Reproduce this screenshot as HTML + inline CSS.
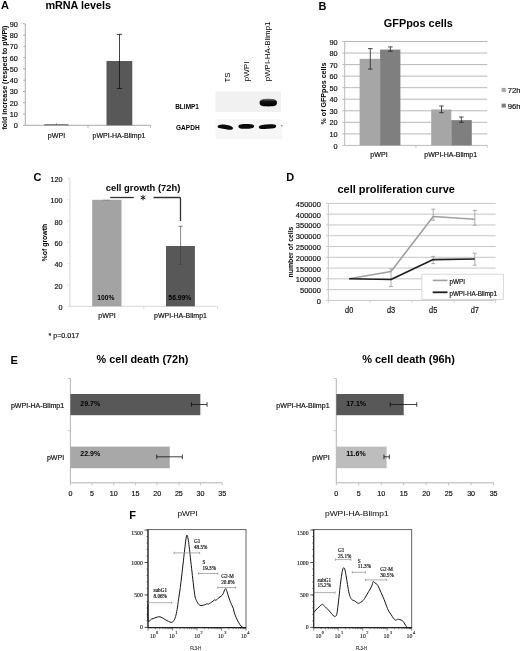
<!DOCTYPE html>
<html><head><meta charset="utf-8"><title>Figure</title>
<style>
html,body{margin:0;padding:0;background:#fff;}
body{width:520px;height:651px;overflow:hidden;}
svg{display:block;font-family:"Liberation Sans", sans-serif;will-change:transform;}
</style></head>
<body>
<svg width="520" height="651" viewBox="0 0 520 651">
<rect x="0" y="0" width="520" height="651" fill="#fff"/>
<text x="1.00" y="9.40" font-size="11" font-weight="bold" text-anchor="start" fill="#000">A</text>
<text x="45.40" y="9.30" font-size="10.8" font-weight="bold" text-anchor="start" fill="#000">mRNA levels</text>
<line x1="25.30" y1="23.80" x2="25.30" y2="125.30" stroke="#a0a0a0" stroke-width="0.9"/>
<line x1="25.30" y1="125.30" x2="150.50" y2="125.30" stroke="#a0a0a0" stroke-width="0.9"/>
<line x1="23.00" y1="125.30" x2="25.30" y2="125.30" stroke="#a0a0a0" stroke-width="0.8"/>
<text x="17.90" y="128.31" font-size="7.3" stroke="#111" stroke-width="0.18" text-anchor="end" fill="#111">0</text>
<line x1="23.00" y1="114.02" x2="25.30" y2="114.02" stroke="#a0a0a0" stroke-width="0.8"/>
<text x="17.90" y="117.04" font-size="7.3" stroke="#111" stroke-width="0.18" text-anchor="end" fill="#111">10</text>
<line x1="23.00" y1="102.74" x2="25.30" y2="102.74" stroke="#a0a0a0" stroke-width="0.8"/>
<text x="17.90" y="105.76" font-size="7.3" stroke="#111" stroke-width="0.18" text-anchor="end" fill="#111">20</text>
<line x1="23.00" y1="91.47" x2="25.30" y2="91.47" stroke="#a0a0a0" stroke-width="0.8"/>
<text x="17.90" y="94.48" font-size="7.3" stroke="#111" stroke-width="0.18" text-anchor="end" fill="#111">30</text>
<line x1="23.00" y1="80.19" x2="25.30" y2="80.19" stroke="#a0a0a0" stroke-width="0.8"/>
<text x="17.90" y="83.20" font-size="7.3" stroke="#111" stroke-width="0.18" text-anchor="end" fill="#111">40</text>
<line x1="23.00" y1="68.91" x2="25.30" y2="68.91" stroke="#a0a0a0" stroke-width="0.8"/>
<text x="17.90" y="71.92" font-size="7.3" stroke="#111" stroke-width="0.18" text-anchor="end" fill="#111">50</text>
<line x1="23.00" y1="57.63" x2="25.30" y2="57.63" stroke="#a0a0a0" stroke-width="0.8"/>
<text x="17.90" y="60.65" font-size="7.3" stroke="#111" stroke-width="0.18" text-anchor="end" fill="#111">60</text>
<line x1="23.00" y1="46.36" x2="25.30" y2="46.36" stroke="#a0a0a0" stroke-width="0.8"/>
<text x="17.90" y="49.37" font-size="7.3" stroke="#111" stroke-width="0.18" text-anchor="end" fill="#111">70</text>
<line x1="23.00" y1="35.08" x2="25.30" y2="35.08" stroke="#a0a0a0" stroke-width="0.8"/>
<text x="17.90" y="38.09" font-size="7.3" stroke="#111" stroke-width="0.18" text-anchor="end" fill="#111">80</text>
<line x1="23.00" y1="23.80" x2="25.30" y2="23.80" stroke="#a0a0a0" stroke-width="0.8"/>
<text x="17.90" y="26.81" font-size="7.3" stroke="#111" stroke-width="0.18" text-anchor="end" fill="#111">90</text>
<line x1="88.00" y1="125.30" x2="88.00" y2="127.80" stroke="#a0a0a0" stroke-width="0.8"/>
<line x1="150.50" y1="125.30" x2="150.50" y2="127.80" stroke="#a0a0a0" stroke-width="0.8"/>
<rect x="44.20" y="124.20" width="24.30" height="1.10" fill="#6a6a6a"/>
<line x1="56.40" y1="123.30" x2="56.40" y2="124.70" stroke="#333" stroke-width="0.6"/>
<rect x="106.50" y="61.02" width="25.80" height="64.28" fill="#585858"/>
<line x1="119.50" y1="34.40" x2="119.50" y2="88.50" stroke="#111" stroke-width="0.8"/>
<line x1="116.90" y1="34.40" x2="122.10" y2="34.40" stroke="#111" stroke-width="0.8"/>
<line x1="116.90" y1="88.50" x2="122.10" y2="88.50" stroke="#111" stroke-width="0.8"/>
<text x="4.80" y="80.14" font-size="7.1" font-weight="bold" text-anchor="middle" fill="#000" transform="rotate(-90 4.80 77.60)">fold increase (respect to pWPI)</text>
<text x="56.50" y="137.94" font-size="7.1" stroke="#111" stroke-width="0.18" text-anchor="middle" fill="#111">pWPI</text>
<text x="119.00" y="137.91" font-size="7.0" stroke="#111" stroke-width="0.18" text-anchor="middle" fill="#111">pWPI-HA-Blimp1</text>
<text x="227.20" y="85.29" font-size="7.8" text-anchor="start" fill="#000" transform="rotate(-90 227.20 82.50)">TS</text>
<text x="246.40" y="84.06" font-size="8.0" text-anchor="start" fill="#000" transform="rotate(-90 246.40 81.20)">pWPI</text>
<text x="267.20" y="84.03" font-size="7.9" text-anchor="start" fill="#000" transform="rotate(-90 267.20 81.20)">pWPI-HA-Blimp1</text>
<rect x="215.60" y="91.50" width="65.40" height="20.50" fill="#f1f1f1"/>
<rect x="215.60" y="119.30" width="66.20" height="19.60" fill="#f6f6f6"/>
<defs><linearGradient id="bg1" x1="0" y1="0" x2="0" y2="1"><stop offset="0" stop-color="#777"/><stop offset="0.35" stop-color="#111"/><stop offset="1" stop-color="#000"/></linearGradient></defs>
<path d="M259.6,102.8 C259.6,99.3 263,98.8 268.3,98.8 C273.6,98.8 277,99.3 277,102.8 C277,106.3 273.6,106.4 268.3,106.4 C263,106.4 259.6,106.3 259.6,102.8 Z" fill="url(#bg1)"/>
<path d="M217.6,126.6 C217.6,124.6 221.5,124.1 225.5,124.7 C229,125.2 233,126.2 233,128.2 C233,130.1 229.5,130 226,129.2 C222,128.5 217.6,128.8 217.6,126.6 Z" fill="#0a0a0a"/>
<path d="M238.4,126.5 C238.4,124.3 242,124.1 246,124.1 C250,124.1 254.1,124.2 254.1,126.3 C254.1,128.6 250,128.8 246,128.8 C242,128.8 238.4,128.8 238.4,126.5 Z" fill="#0a0a0a"/>
<path d="M258.8,127.2 C258.8,125.2 262.5,124.6 267,124.4 C271.5,124.2 276.2,124.1 276.2,126.2 C276.2,128.3 272,128.5 267.5,128.8 C263,129.2 258.8,129.3 258.8,127.2 Z" fill="#0a0a0a"/>
<circle cx="281.8" cy="125.8" r="0.7" fill="#666"/>
<text x="175.20" y="109.07" font-size="6.9" font-weight="bold" text-anchor="start" fill="#000" textLength="23.8" lengthAdjust="spacingAndGlyphs">BLIMP1</text>
<text x="176.00" y="129.71" font-size="7.0" font-weight="bold" text-anchor="start" fill="#000" textLength="23.6" lengthAdjust="spacingAndGlyphs">GAPDH</text>
<text x="318.60" y="9.50" font-size="11" font-weight="bold" text-anchor="start" fill="#000">B</text>
<text x="383.80" y="26.90" font-size="10.9" font-weight="bold" text-anchor="start" fill="#000">GFPpos cells</text>
<line x1="344.70" y1="133.86" x2="487.30" y2="133.86" stroke="#b9b9b9" stroke-width="1.0"/>
<line x1="344.70" y1="122.31" x2="487.30" y2="122.31" stroke="#b9b9b9" stroke-width="1.0"/>
<line x1="344.70" y1="110.77" x2="487.30" y2="110.77" stroke="#b9b9b9" stroke-width="1.0"/>
<line x1="344.70" y1="99.22" x2="487.30" y2="99.22" stroke="#b9b9b9" stroke-width="1.0"/>
<line x1="344.70" y1="87.68" x2="487.30" y2="87.68" stroke="#b9b9b9" stroke-width="1.0"/>
<line x1="344.70" y1="76.13" x2="487.30" y2="76.13" stroke="#b9b9b9" stroke-width="1.0"/>
<line x1="344.70" y1="64.59" x2="487.30" y2="64.59" stroke="#b9b9b9" stroke-width="1.0"/>
<line x1="344.70" y1="53.04" x2="487.30" y2="53.04" stroke="#b9b9b9" stroke-width="1.0"/>
<line x1="344.70" y1="41.50" x2="487.30" y2="41.50" stroke="#b9b9b9" stroke-width="1.0"/>
<line x1="344.70" y1="41.50" x2="344.70" y2="145.40" stroke="#b9b9b9" stroke-width="1.0"/>
<line x1="344.70" y1="145.40" x2="487.30" y2="145.40" stroke="#b9b9b9" stroke-width="1.0"/>
<line x1="342.30" y1="145.40" x2="344.70" y2="145.40" stroke="#b9b9b9" stroke-width="1.0"/>
<text x="337.60" y="148.51" font-size="7.3" stroke="#111" stroke-width="0.18" text-anchor="end" fill="#111">0</text>
<line x1="342.30" y1="133.86" x2="344.70" y2="133.86" stroke="#b9b9b9" stroke-width="1.0"/>
<text x="337.60" y="136.97" font-size="7.3" stroke="#111" stroke-width="0.18" text-anchor="end" fill="#111">10</text>
<line x1="342.30" y1="122.31" x2="344.70" y2="122.31" stroke="#b9b9b9" stroke-width="1.0"/>
<text x="337.60" y="125.42" font-size="7.3" stroke="#111" stroke-width="0.18" text-anchor="end" fill="#111">20</text>
<line x1="342.30" y1="110.77" x2="344.70" y2="110.77" stroke="#b9b9b9" stroke-width="1.0"/>
<text x="337.60" y="113.88" font-size="7.3" stroke="#111" stroke-width="0.18" text-anchor="end" fill="#111">30</text>
<line x1="342.30" y1="99.22" x2="344.70" y2="99.22" stroke="#b9b9b9" stroke-width="1.0"/>
<text x="337.60" y="102.34" font-size="7.3" stroke="#111" stroke-width="0.18" text-anchor="end" fill="#111">40</text>
<line x1="342.30" y1="87.68" x2="344.70" y2="87.68" stroke="#b9b9b9" stroke-width="1.0"/>
<text x="337.60" y="90.79" font-size="7.3" stroke="#111" stroke-width="0.18" text-anchor="end" fill="#111">50</text>
<line x1="342.30" y1="76.13" x2="344.70" y2="76.13" stroke="#b9b9b9" stroke-width="1.0"/>
<text x="337.60" y="79.25" font-size="7.3" stroke="#111" stroke-width="0.18" text-anchor="end" fill="#111">60</text>
<line x1="342.30" y1="64.59" x2="344.70" y2="64.59" stroke="#b9b9b9" stroke-width="1.0"/>
<text x="337.60" y="67.70" font-size="7.3" stroke="#111" stroke-width="0.18" text-anchor="end" fill="#111">70</text>
<line x1="342.30" y1="53.04" x2="344.70" y2="53.04" stroke="#b9b9b9" stroke-width="1.0"/>
<text x="337.60" y="56.16" font-size="7.3" stroke="#111" stroke-width="0.18" text-anchor="end" fill="#111">80</text>
<line x1="342.30" y1="41.50" x2="344.70" y2="41.50" stroke="#b9b9b9" stroke-width="1.0"/>
<text x="337.60" y="44.61" font-size="7.3" stroke="#111" stroke-width="0.18" text-anchor="end" fill="#111">90</text>
<line x1="415.90" y1="145.40" x2="415.90" y2="147.90" stroke="#b9b9b9" stroke-width="0.8"/>
<line x1="487.30" y1="145.40" x2="487.30" y2="147.90" stroke="#b9b9b9" stroke-width="0.8"/>
<rect x="359.60" y="58.82" width="20.50" height="86.58" fill="#a6a6a6"/>
<rect x="380.10" y="49.58" width="20.30" height="95.82" fill="#7f7f7f"/>
<rect x="431.20" y="109.50" width="20.10" height="35.90" fill="#a6a6a6"/>
<rect x="451.30" y="120.12" width="20.50" height="25.28" fill="#7f7f7f"/>
<line x1="370.30" y1="48.60" x2="370.30" y2="69.10" stroke="#222" stroke-width="0.8"/>
<line x1="368.00" y1="48.60" x2="372.60" y2="48.60" stroke="#222" stroke-width="0.8"/>
<line x1="368.00" y1="69.10" x2="372.60" y2="69.10" stroke="#222" stroke-width="0.8"/>
<line x1="390.40" y1="46.90" x2="390.40" y2="51.20" stroke="#222" stroke-width="0.8"/>
<line x1="388.10" y1="46.90" x2="392.70" y2="46.90" stroke="#222" stroke-width="0.8"/>
<line x1="388.10" y1="51.20" x2="392.70" y2="51.20" stroke="#222" stroke-width="0.8"/>
<line x1="441.50" y1="106.00" x2="441.50" y2="112.70" stroke="#222" stroke-width="0.8"/>
<line x1="439.20" y1="106.00" x2="443.80" y2="106.00" stroke="#222" stroke-width="0.8"/>
<line x1="439.20" y1="112.70" x2="443.80" y2="112.70" stroke="#222" stroke-width="0.8"/>
<line x1="461.30" y1="117.00" x2="461.30" y2="122.30" stroke="#222" stroke-width="0.8"/>
<line x1="459.00" y1="117.00" x2="463.60" y2="117.00" stroke="#222" stroke-width="0.8"/>
<line x1="459.00" y1="122.30" x2="463.60" y2="122.30" stroke="#222" stroke-width="0.8"/>
<text x="323.80" y="96.04" font-size="7.1" font-weight="bold" text-anchor="middle" fill="#000" transform="rotate(-90 323.80 93.50)">% of GFPpos cells</text>
<text x="379.00" y="157.04" font-size="7.1" stroke="#111" stroke-width="0.18" text-anchor="middle" fill="#111">pWPI</text>
<text x="450.70" y="157.01" font-size="7.0" stroke="#111" stroke-width="0.18" text-anchor="middle" fill="#111">pWPI-HA-Blimp1</text>
<rect x="501.60" y="87.90" width="4.20" height="4.00" fill="#a6a6a6"/>
<text x="507.70" y="93.16" font-size="7.7" stroke="#111" stroke-width="0.18" text-anchor="start" fill="#111">72h</text>
<rect x="501.60" y="103.60" width="4.20" height="4.00" fill="#7f7f7f"/>
<text x="507.70" y="108.76" font-size="7.7" stroke="#111" stroke-width="0.18" text-anchor="start" fill="#111">96h</text>
<text x="33.50" y="181.30" font-size="11" font-weight="bold" text-anchor="start" fill="#000">C</text>
<line x1="69.90" y1="178.50" x2="69.90" y2="306.30" stroke="#d6d6d6" stroke-width="1.0"/>
<line x1="69.90" y1="306.30" x2="217.50" y2="306.30" stroke="#d6d6d6" stroke-width="1.0"/>
<line x1="67.70" y1="306.30" x2="69.90" y2="306.30" stroke="#d6d6d6" stroke-width="0.8"/>
<text x="62.50" y="309.88" font-size="7.2" stroke="#111" stroke-width="0.18" text-anchor="end" fill="#111">0</text>
<line x1="67.70" y1="285.00" x2="69.90" y2="285.00" stroke="#d6d6d6" stroke-width="0.8"/>
<text x="62.50" y="288.58" font-size="7.2" stroke="#111" stroke-width="0.18" text-anchor="end" fill="#111">20</text>
<line x1="67.70" y1="263.70" x2="69.90" y2="263.70" stroke="#d6d6d6" stroke-width="0.8"/>
<text x="62.50" y="267.28" font-size="7.2" stroke="#111" stroke-width="0.18" text-anchor="end" fill="#111">40</text>
<line x1="67.70" y1="242.40" x2="69.90" y2="242.40" stroke="#d6d6d6" stroke-width="0.8"/>
<text x="62.50" y="245.98" font-size="7.2" stroke="#111" stroke-width="0.18" text-anchor="end" fill="#111">60</text>
<line x1="67.70" y1="221.10" x2="69.90" y2="221.10" stroke="#d6d6d6" stroke-width="0.8"/>
<text x="62.50" y="224.68" font-size="7.2" stroke="#111" stroke-width="0.18" text-anchor="end" fill="#111">80</text>
<line x1="67.70" y1="199.80" x2="69.90" y2="199.80" stroke="#d6d6d6" stroke-width="0.8"/>
<text x="62.50" y="203.38" font-size="7.2" stroke="#111" stroke-width="0.18" text-anchor="end" fill="#111">100</text>
<line x1="67.70" y1="178.50" x2="69.90" y2="178.50" stroke="#d6d6d6" stroke-width="0.8"/>
<text x="62.50" y="182.08" font-size="7.2" stroke="#111" stroke-width="0.18" text-anchor="end" fill="#111">120</text>
<line x1="143.80" y1="306.30" x2="143.80" y2="308.80" stroke="#d6d6d6" stroke-width="0.8"/>
<line x1="217.50" y1="306.30" x2="217.50" y2="308.80" stroke="#d6d6d6" stroke-width="0.8"/>
<rect x="92.20" y="199.80" width="29.30" height="106.50" fill="#a3a3a3"/>
<line x1="103.00" y1="200.20" x2="110.00" y2="200.20" stroke="#777" stroke-width="0.6"/>
<rect x="166.00" y="246.00" width="28.90" height="60.30" fill="#585858"/>
<line x1="180.60" y1="226.30" x2="180.60" y2="264.50" stroke="#444" stroke-width="0.65"/>
<line x1="178.40" y1="226.30" x2="182.80" y2="226.30" stroke="#444" stroke-width="0.65"/>
<line x1="178.40" y1="264.50" x2="182.80" y2="264.50" stroke="#444" stroke-width="0.65"/>
<text x="105.80" y="191.20" font-size="9.4" font-weight="bold" text-anchor="start" fill="#000">cell growth (72h)</text>
<path d="M110.2,197.5 H133.8" stroke="#333" stroke-width="1.3" fill="none"/>
<line x1="143.00" y1="194.90" x2="143.00" y2="200.30" stroke="#111" stroke-width="0.95"/>
<line x1="140.66" y1="196.25" x2="145.34" y2="198.95" stroke="#111" stroke-width="0.95"/>
<line x1="145.34" y1="196.25" x2="140.66" y2="198.95" stroke="#111" stroke-width="0.95"/>
<path d="M153.5,197.5 H179.4 Q180.5,197.5 180.5,198.6 V221" stroke="#333" stroke-width="1.3" fill="none"/>
<text x="105.90" y="300.00" font-size="6.7" font-weight="bold" text-anchor="middle" fill="#000">100%</text>
<text x="179.90" y="300.03" font-size="6.8" font-weight="bold" text-anchor="middle" fill="#000">56.99%</text>
<text x="44.50" y="245.09" font-size="6.95" font-weight="bold" text-anchor="middle" fill="#000" transform="rotate(-90 44.50 242.60)">%of growth</text>
<text x="107.00" y="317.94" font-size="7.1" stroke="#111" stroke-width="0.18" text-anchor="middle" fill="#111">pWPI</text>
<text x="180.50" y="317.91" font-size="7.0" stroke="#111" stroke-width="0.18" text-anchor="middle" fill="#111">pWPI-HA-Blimp1</text>
<text x="48.50" y="338.34" font-size="7.1" stroke="#111" stroke-width="0.18" text-anchor="start" fill="#111">* p=0.017</text>
<text x="286.20" y="181.30" font-size="11" font-weight="bold" text-anchor="start" fill="#000">D</text>
<text x="337.50" y="192.50" font-size="10.95" font-weight="bold" text-anchor="start" fill="#000">cell proliferation curve</text>
<line x1="328.30" y1="289.62" x2="495.60" y2="289.62" stroke="#c6c6c6" stroke-width="1.0"/>
<line x1="328.30" y1="278.84" x2="495.60" y2="278.84" stroke="#c6c6c6" stroke-width="1.0"/>
<line x1="328.30" y1="268.07" x2="495.60" y2="268.07" stroke="#c6c6c6" stroke-width="1.0"/>
<line x1="328.30" y1="257.29" x2="495.60" y2="257.29" stroke="#c6c6c6" stroke-width="1.0"/>
<line x1="328.30" y1="246.51" x2="495.60" y2="246.51" stroke="#c6c6c6" stroke-width="1.0"/>
<line x1="328.30" y1="235.73" x2="495.60" y2="235.73" stroke="#c6c6c6" stroke-width="1.0"/>
<line x1="328.30" y1="224.96" x2="495.60" y2="224.96" stroke="#c6c6c6" stroke-width="1.0"/>
<line x1="328.30" y1="214.18" x2="495.60" y2="214.18" stroke="#c6c6c6" stroke-width="1.0"/>
<line x1="328.30" y1="203.40" x2="495.60" y2="203.40" stroke="#c6c6c6" stroke-width="1.0"/>
<line x1="328.30" y1="203.40" x2="328.30" y2="300.40" stroke="#c6c6c6" stroke-width="1.0"/>
<line x1="328.30" y1="300.40" x2="495.60" y2="300.40" stroke="#c6c6c6" stroke-width="1.0"/>
<line x1="326.00" y1="300.40" x2="328.30" y2="300.40" stroke="#c6c6c6" stroke-width="0.9"/>
<text x="320.90" y="303.88" font-size="7.5" stroke="#111" stroke-width="0.18" text-anchor="end" fill="#111">0</text>
<line x1="326.00" y1="289.62" x2="328.30" y2="289.62" stroke="#c6c6c6" stroke-width="0.9"/>
<text x="320.90" y="293.11" font-size="7.5" stroke="#111" stroke-width="0.18" text-anchor="end" fill="#111">50000</text>
<line x1="326.00" y1="278.84" x2="328.30" y2="278.84" stroke="#c6c6c6" stroke-width="0.9"/>
<text x="320.90" y="282.33" font-size="7.5" stroke="#111" stroke-width="0.18" text-anchor="end" fill="#111">100000</text>
<line x1="326.00" y1="268.07" x2="328.30" y2="268.07" stroke="#c6c6c6" stroke-width="0.9"/>
<text x="320.90" y="271.55" font-size="7.5" stroke="#111" stroke-width="0.18" text-anchor="end" fill="#111">150000</text>
<line x1="326.00" y1="257.29" x2="328.30" y2="257.29" stroke="#c6c6c6" stroke-width="0.9"/>
<text x="320.90" y="260.77" font-size="7.5" stroke="#111" stroke-width="0.18" text-anchor="end" fill="#111">200000</text>
<line x1="326.00" y1="246.51" x2="328.30" y2="246.51" stroke="#c6c6c6" stroke-width="0.9"/>
<text x="320.90" y="250.00" font-size="7.5" stroke="#111" stroke-width="0.18" text-anchor="end" fill="#111">250000</text>
<line x1="326.00" y1="235.73" x2="328.30" y2="235.73" stroke="#c6c6c6" stroke-width="0.9"/>
<text x="320.90" y="239.22" font-size="7.5" stroke="#111" stroke-width="0.18" text-anchor="end" fill="#111">300000</text>
<line x1="326.00" y1="224.96" x2="328.30" y2="224.96" stroke="#c6c6c6" stroke-width="0.9"/>
<text x="320.90" y="228.44" font-size="7.5" stroke="#111" stroke-width="0.18" text-anchor="end" fill="#111">350000</text>
<line x1="326.00" y1="214.18" x2="328.30" y2="214.18" stroke="#c6c6c6" stroke-width="0.9"/>
<text x="320.90" y="217.66" font-size="7.5" stroke="#111" stroke-width="0.18" text-anchor="end" fill="#111">400000</text>
<line x1="326.00" y1="203.40" x2="328.30" y2="203.40" stroke="#c6c6c6" stroke-width="0.9"/>
<text x="320.90" y="206.89" font-size="7.5" stroke="#111" stroke-width="0.18" text-anchor="end" fill="#111">450000</text>
<line x1="328.30" y1="300.40" x2="328.30" y2="302.90" stroke="#c6c6c6" stroke-width="0.8"/>
<line x1="370.10" y1="300.40" x2="370.10" y2="302.90" stroke="#c6c6c6" stroke-width="0.8"/>
<line x1="412.00" y1="300.40" x2="412.00" y2="302.90" stroke="#c6c6c6" stroke-width="0.8"/>
<line x1="453.90" y1="300.40" x2="453.90" y2="302.90" stroke="#c6c6c6" stroke-width="0.8"/>
<line x1="495.60" y1="300.40" x2="495.60" y2="302.90" stroke="#c6c6c6" stroke-width="0.8"/>
<line x1="391.00" y1="268.70" x2="391.00" y2="286.50" stroke="#999" stroke-width="0.8"/>
<line x1="389.00" y1="268.70" x2="393.00" y2="268.70" stroke="#999" stroke-width="0.8"/>
<line x1="389.00" y1="286.50" x2="393.00" y2="286.50" stroke="#999" stroke-width="0.8"/>
<line x1="433.20" y1="209.20" x2="433.20" y2="220.20" stroke="#999" stroke-width="0.8"/>
<line x1="431.20" y1="209.20" x2="435.20" y2="209.20" stroke="#999" stroke-width="0.8"/>
<line x1="431.20" y1="220.20" x2="435.20" y2="220.20" stroke="#999" stroke-width="0.8"/>
<line x1="474.80" y1="210.40" x2="474.80" y2="225.20" stroke="#999" stroke-width="0.8"/>
<line x1="472.80" y1="210.40" x2="476.80" y2="210.40" stroke="#999" stroke-width="0.8"/>
<line x1="472.80" y1="225.20" x2="476.80" y2="225.20" stroke="#999" stroke-width="0.8"/>
<line x1="433.20" y1="256.40" x2="433.20" y2="263.60" stroke="#999" stroke-width="0.8"/>
<line x1="431.20" y1="256.40" x2="435.20" y2="256.40" stroke="#999" stroke-width="0.8"/>
<line x1="431.20" y1="263.60" x2="435.20" y2="263.60" stroke="#999" stroke-width="0.8"/>
<line x1="474.80" y1="253.20" x2="474.80" y2="265.20" stroke="#999" stroke-width="0.8"/>
<line x1="472.80" y1="253.20" x2="476.80" y2="253.20" stroke="#999" stroke-width="0.8"/>
<line x1="472.80" y1="265.20" x2="476.80" y2="265.20" stroke="#999" stroke-width="0.8"/>
<path d="M349.2,278.7 L391.0,271.5 L433.2,216.5 L474.8,219.2" stroke="#a0a0a0" stroke-width="1.6" fill="none" stroke-linejoin="round"/>
<path d="M349.2,278.7 L391.0,279.5 L433.2,259.6 L474.8,259.0" stroke="#1e1e1e" stroke-width="1.65" fill="none" stroke-linejoin="round"/>
<text x="290.60" y="254.47" font-size="6.9" font-weight="bold" text-anchor="middle" fill="#000" transform="rotate(-90 290.60 252.00)">number of cells</text>
<text x="349.20" y="313.21" font-size="8.4" stroke="#111" stroke-width="0.18" text-anchor="middle" fill="#111" textLength="8.2" lengthAdjust="spacingAndGlyphs">d0</text>
<text x="391.00" y="313.21" font-size="8.4" stroke="#111" stroke-width="0.18" text-anchor="middle" fill="#111" textLength="8.2" lengthAdjust="spacingAndGlyphs">d3</text>
<text x="433.20" y="313.21" font-size="8.4" stroke="#111" stroke-width="0.18" text-anchor="middle" fill="#111" textLength="8.2" lengthAdjust="spacingAndGlyphs">d5</text>
<text x="474.80" y="313.21" font-size="8.4" stroke="#111" stroke-width="0.18" text-anchor="middle" fill="#111" textLength="8.2" lengthAdjust="spacingAndGlyphs">d7</text>
<rect x="421.90" y="274.20" width="81.40" height="25.40" fill="#fff" stroke="#cfcfcf" stroke-width="0.8"/>
<line x1="432.70" y1="280.40" x2="447.50" y2="280.40" stroke="#a0a0a0" stroke-width="1.6"/>
<line x1="432.70" y1="292.30" x2="447.50" y2="292.30" stroke="#1e1e1e" stroke-width="1.8"/>
<text x="449.40" y="283.59" font-size="6.4" stroke="#111" stroke-width="0.18" text-anchor="start" fill="#111">pWPI</text>
<text x="449.40" y="295.86" font-size="6.3" stroke="#111" stroke-width="0.18" text-anchor="start" fill="#111">pWPI-HA-Blimp1</text>
<text x="10.60" y="364.40" font-size="11" font-weight="bold" text-anchor="start" fill="#000">E</text>
<text x="96.60" y="362.90" font-size="10.9" font-weight="bold" text-anchor="start" fill="#000" textLength="91.8" lengthAdjust="spacingAndGlyphs">% cell death (72h)</text>
<line x1="70.40" y1="378.50" x2="70.40" y2="482.80" stroke="#b4b4b4" stroke-width="1.0"/>
<line x1="70.40" y1="482.80" x2="222.23" y2="482.80" stroke="#b4b4b4" stroke-width="1.0"/>
<line x1="67.90" y1="378.50" x2="70.40" y2="378.50" stroke="#b4b4b4" stroke-width="0.8"/>
<line x1="67.90" y1="430.70" x2="70.40" y2="430.70" stroke="#b4b4b4" stroke-width="0.8"/>
<line x1="70.40" y1="482.80" x2="70.40" y2="485.30" stroke="#b4b4b4" stroke-width="0.8"/>
<text x="70.40" y="495.94" font-size="7.1" stroke="#111" stroke-width="0.18" text-anchor="middle" fill="#111">0</text>
<line x1="92.09" y1="482.80" x2="92.09" y2="485.30" stroke="#b4b4b4" stroke-width="0.8"/>
<text x="92.09" y="495.94" font-size="7.1" stroke="#111" stroke-width="0.18" text-anchor="middle" fill="#111">5</text>
<line x1="113.78" y1="482.80" x2="113.78" y2="485.30" stroke="#b4b4b4" stroke-width="0.8"/>
<text x="113.78" y="495.94" font-size="7.1" stroke="#111" stroke-width="0.18" text-anchor="middle" fill="#111">10</text>
<line x1="135.47" y1="482.80" x2="135.47" y2="485.30" stroke="#b4b4b4" stroke-width="0.8"/>
<text x="135.47" y="495.94" font-size="7.1" stroke="#111" stroke-width="0.18" text-anchor="middle" fill="#111">15</text>
<line x1="157.16" y1="482.80" x2="157.16" y2="485.30" stroke="#b4b4b4" stroke-width="0.8"/>
<text x="157.16" y="495.94" font-size="7.1" stroke="#111" stroke-width="0.18" text-anchor="middle" fill="#111">20</text>
<line x1="178.85" y1="482.80" x2="178.85" y2="485.30" stroke="#b4b4b4" stroke-width="0.8"/>
<text x="178.85" y="495.94" font-size="7.1" stroke="#111" stroke-width="0.18" text-anchor="middle" fill="#111">25</text>
<line x1="200.54" y1="482.80" x2="200.54" y2="485.30" stroke="#b4b4b4" stroke-width="0.8"/>
<text x="200.54" y="495.94" font-size="7.1" stroke="#111" stroke-width="0.18" text-anchor="middle" fill="#111">30</text>
<line x1="222.23" y1="482.80" x2="222.23" y2="485.30" stroke="#b4b4b4" stroke-width="0.8"/>
<text x="222.23" y="495.94" font-size="7.1" stroke="#111" stroke-width="0.18" text-anchor="middle" fill="#111">35</text>
<rect x="70.40" y="394.00" width="129.92" height="21.20" fill="#585858"/>
<rect x="70.40" y="446.60" width="99.34" height="21.60" fill="#a8a8a8"/>
<line x1="191.43" y1="404.50" x2="207.05" y2="404.50" stroke="#111" stroke-width="0.8"/>
<line x1="191.43" y1="402.20" x2="191.43" y2="406.80" stroke="#111" stroke-width="0.8"/>
<line x1="207.05" y1="402.20" x2="207.05" y2="406.80" stroke="#111" stroke-width="0.8"/>
<line x1="156.73" y1="456.80" x2="182.32" y2="456.80" stroke="#111" stroke-width="0.8"/>
<line x1="156.73" y1="454.50" x2="156.73" y2="459.10" stroke="#111" stroke-width="0.8"/>
<line x1="182.32" y1="454.50" x2="182.32" y2="459.10" stroke="#111" stroke-width="0.8"/>
<text x="80.30" y="405.81" font-size="7.0" font-weight="bold" text-anchor="start" fill="#000">29.7%</text>
<text x="80.30" y="456.01" font-size="7.0" font-weight="bold" text-anchor="start" fill="#000">22.9%</text>
<text x="64.20" y="408.22" font-size="7.05" stroke="#111" stroke-width="0.18" text-anchor="end" fill="#111">pWPI-HA-Blimp1</text>
<text x="64.20" y="459.52" font-size="7.05" stroke="#111" stroke-width="0.18" text-anchor="end" fill="#111">pWPI</text>
<text x="362.20" y="362.90" font-size="10.9" font-weight="bold" text-anchor="start" fill="#000" textLength="92.8" lengthAdjust="spacingAndGlyphs">% cell death (96h)</text>
<line x1="336.30" y1="378.50" x2="336.30" y2="482.80" stroke="#b4b4b4" stroke-width="1.0"/>
<line x1="336.30" y1="482.80" x2="493.59" y2="482.80" stroke="#b4b4b4" stroke-width="1.0"/>
<line x1="333.80" y1="378.50" x2="336.30" y2="378.50" stroke="#b4b4b4" stroke-width="0.8"/>
<line x1="333.80" y1="430.70" x2="336.30" y2="430.70" stroke="#b4b4b4" stroke-width="0.8"/>
<line x1="336.30" y1="482.80" x2="336.30" y2="485.30" stroke="#b4b4b4" stroke-width="0.8"/>
<text x="336.30" y="495.94" font-size="7.1" stroke="#111" stroke-width="0.18" text-anchor="middle" fill="#111">0</text>
<line x1="358.77" y1="482.80" x2="358.77" y2="485.30" stroke="#b4b4b4" stroke-width="0.8"/>
<text x="358.77" y="495.94" font-size="7.1" stroke="#111" stroke-width="0.18" text-anchor="middle" fill="#111">5</text>
<line x1="381.24" y1="482.80" x2="381.24" y2="485.30" stroke="#b4b4b4" stroke-width="0.8"/>
<text x="381.24" y="495.94" font-size="7.1" stroke="#111" stroke-width="0.18" text-anchor="middle" fill="#111">10</text>
<line x1="403.71" y1="482.80" x2="403.71" y2="485.30" stroke="#b4b4b4" stroke-width="0.8"/>
<text x="403.71" y="495.94" font-size="7.1" stroke="#111" stroke-width="0.18" text-anchor="middle" fill="#111">15</text>
<line x1="426.18" y1="482.80" x2="426.18" y2="485.30" stroke="#b4b4b4" stroke-width="0.8"/>
<text x="426.18" y="495.94" font-size="7.1" stroke="#111" stroke-width="0.18" text-anchor="middle" fill="#111">20</text>
<line x1="448.65" y1="482.80" x2="448.65" y2="485.30" stroke="#b4b4b4" stroke-width="0.8"/>
<text x="448.65" y="495.94" font-size="7.1" stroke="#111" stroke-width="0.18" text-anchor="middle" fill="#111">25</text>
<line x1="471.12" y1="482.80" x2="471.12" y2="485.30" stroke="#b4b4b4" stroke-width="0.8"/>
<text x="471.12" y="495.94" font-size="7.1" stroke="#111" stroke-width="0.18" text-anchor="middle" fill="#111">30</text>
<line x1="493.59" y1="482.80" x2="493.59" y2="485.30" stroke="#b4b4b4" stroke-width="0.8"/>
<text x="493.59" y="495.94" font-size="7.1" stroke="#111" stroke-width="0.18" text-anchor="middle" fill="#111">35</text>
<rect x="336.30" y="394.00" width="67.41" height="21.20" fill="#585858"/>
<rect x="336.30" y="446.60" width="50.33" height="21.60" fill="#bdbdbd"/>
<line x1="390.23" y1="404.50" x2="416.74" y2="404.50" stroke="#111" stroke-width="0.8"/>
<line x1="390.23" y1="402.20" x2="390.23" y2="406.80" stroke="#111" stroke-width="0.8"/>
<line x1="416.74" y1="402.20" x2="416.74" y2="406.80" stroke="#111" stroke-width="0.8"/>
<line x1="383.94" y1="456.80" x2="389.33" y2="456.80" stroke="#111" stroke-width="0.8"/>
<line x1="383.94" y1="454.50" x2="383.94" y2="459.10" stroke="#111" stroke-width="0.8"/>
<line x1="389.33" y1="454.50" x2="389.33" y2="459.10" stroke="#111" stroke-width="0.8"/>
<text x="346.20" y="405.81" font-size="7.0" font-weight="bold" text-anchor="start" fill="#000">17.1%</text>
<text x="346.20" y="456.01" font-size="7.0" font-weight="bold" text-anchor="start" fill="#000">11.6%</text>
<text x="329.60" y="408.22" font-size="7.05" stroke="#111" stroke-width="0.18" text-anchor="end" fill="#111">pWPI-HA-Blimp1</text>
<text x="329.60" y="459.52" font-size="7.05" stroke="#111" stroke-width="0.18" text-anchor="end" fill="#111">pWPI</text>
<text x="129.20" y="519.40" font-size="11" font-weight="bold" text-anchor="start" fill="#000">F</text>
<rect x="148.00" y="529.60" width="98.00" height="98.00" fill="none" stroke="#555" stroke-width="0.9"/>
<line x1="148.00" y1="529.60" x2="148.00" y2="627.60" stroke="#222" stroke-width="1.1"/>
<line x1="148.00" y1="627.60" x2="246.00" y2="627.60" stroke="#222" stroke-width="1.1"/>
<line x1="144.50" y1="627.40" x2="148.00" y2="627.40" stroke="#333" stroke-width="0.8"/>
<text x="142.90" y="628.50" font-size="5.8" font-family='"Liberation Serif", serif' text-anchor="end" fill="#111" stroke="#111" stroke-width="0.12">0</text>
<line x1="144.50" y1="594.93" x2="148.00" y2="594.93" stroke="#333" stroke-width="0.8"/>
<text x="142.90" y="596.60" font-size="5.8" font-family='"Liberation Serif", serif' text-anchor="end" fill="#111" stroke="#111" stroke-width="0.12">500</text>
<line x1="144.50" y1="562.47" x2="148.00" y2="562.47" stroke="#333" stroke-width="0.8"/>
<text x="142.90" y="564.90" font-size="5.8" font-family='"Liberation Serif", serif' text-anchor="end" fill="#111" stroke="#111" stroke-width="0.12">1000</text>
<line x1="144.50" y1="530.00" x2="148.00" y2="530.00" stroke="#333" stroke-width="0.8"/>
<text x="142.90" y="535.10" font-size="5.8" font-family='"Liberation Serif", serif' text-anchor="end" fill="#111" stroke="#111" stroke-width="0.12">1500</text>
<line x1="146.50" y1="627.40" x2="148.00" y2="627.40" stroke="#333" stroke-width="0.6"/>
<line x1="146.50" y1="620.91" x2="148.00" y2="620.91" stroke="#333" stroke-width="0.6"/>
<line x1="146.50" y1="614.41" x2="148.00" y2="614.41" stroke="#333" stroke-width="0.6"/>
<line x1="146.50" y1="607.92" x2="148.00" y2="607.92" stroke="#333" stroke-width="0.6"/>
<line x1="146.50" y1="601.43" x2="148.00" y2="601.43" stroke="#333" stroke-width="0.6"/>
<line x1="146.50" y1="594.93" x2="148.00" y2="594.93" stroke="#333" stroke-width="0.6"/>
<line x1="146.50" y1="588.44" x2="148.00" y2="588.44" stroke="#333" stroke-width="0.6"/>
<line x1="146.50" y1="581.95" x2="148.00" y2="581.95" stroke="#333" stroke-width="0.6"/>
<line x1="146.50" y1="575.45" x2="148.00" y2="575.45" stroke="#333" stroke-width="0.6"/>
<line x1="146.50" y1="568.96" x2="148.00" y2="568.96" stroke="#333" stroke-width="0.6"/>
<line x1="146.50" y1="562.47" x2="148.00" y2="562.47" stroke="#333" stroke-width="0.6"/>
<line x1="146.50" y1="555.97" x2="148.00" y2="555.97" stroke="#333" stroke-width="0.6"/>
<line x1="146.50" y1="549.48" x2="148.00" y2="549.48" stroke="#333" stroke-width="0.6"/>
<line x1="146.50" y1="542.99" x2="148.00" y2="542.99" stroke="#333" stroke-width="0.6"/>
<line x1="146.50" y1="536.49" x2="148.00" y2="536.49" stroke="#333" stroke-width="0.6"/>
<line x1="146.50" y1="530.00" x2="148.00" y2="530.00" stroke="#333" stroke-width="0.6"/>
<line x1="148.00" y1="627.60" x2="148.00" y2="630.60" stroke="#333" stroke-width="0.6"/>
<line x1="155.38" y1="627.60" x2="155.38" y2="629.20" stroke="#333" stroke-width="0.6"/>
<line x1="159.69" y1="627.60" x2="159.69" y2="629.20" stroke="#333" stroke-width="0.6"/>
<line x1="162.75" y1="627.60" x2="162.75" y2="629.20" stroke="#333" stroke-width="0.6"/>
<line x1="165.12" y1="627.60" x2="165.12" y2="629.20" stroke="#333" stroke-width="0.6"/>
<line x1="167.06" y1="627.60" x2="167.06" y2="629.20" stroke="#333" stroke-width="0.6"/>
<line x1="168.70" y1="627.60" x2="168.70" y2="629.20" stroke="#333" stroke-width="0.6"/>
<line x1="170.13" y1="627.60" x2="170.13" y2="629.20" stroke="#333" stroke-width="0.6"/>
<line x1="171.38" y1="627.60" x2="171.38" y2="629.20" stroke="#333" stroke-width="0.6"/>
<line x1="172.50" y1="627.60" x2="172.50" y2="630.60" stroke="#333" stroke-width="0.6"/>
<line x1="179.88" y1="627.60" x2="179.88" y2="629.20" stroke="#333" stroke-width="0.6"/>
<line x1="184.19" y1="627.60" x2="184.19" y2="629.20" stroke="#333" stroke-width="0.6"/>
<line x1="187.25" y1="627.60" x2="187.25" y2="629.20" stroke="#333" stroke-width="0.6"/>
<line x1="189.62" y1="627.60" x2="189.62" y2="629.20" stroke="#333" stroke-width="0.6"/>
<line x1="191.56" y1="627.60" x2="191.56" y2="629.20" stroke="#333" stroke-width="0.6"/>
<line x1="193.20" y1="627.60" x2="193.20" y2="629.20" stroke="#333" stroke-width="0.6"/>
<line x1="194.63" y1="627.60" x2="194.63" y2="629.20" stroke="#333" stroke-width="0.6"/>
<line x1="195.88" y1="627.60" x2="195.88" y2="629.20" stroke="#333" stroke-width="0.6"/>
<line x1="197.00" y1="627.60" x2="197.00" y2="630.60" stroke="#333" stroke-width="0.6"/>
<line x1="204.38" y1="627.60" x2="204.38" y2="629.20" stroke="#333" stroke-width="0.6"/>
<line x1="208.69" y1="627.60" x2="208.69" y2="629.20" stroke="#333" stroke-width="0.6"/>
<line x1="211.75" y1="627.60" x2="211.75" y2="629.20" stroke="#333" stroke-width="0.6"/>
<line x1="214.12" y1="627.60" x2="214.12" y2="629.20" stroke="#333" stroke-width="0.6"/>
<line x1="216.06" y1="627.60" x2="216.06" y2="629.20" stroke="#333" stroke-width="0.6"/>
<line x1="217.70" y1="627.60" x2="217.70" y2="629.20" stroke="#333" stroke-width="0.6"/>
<line x1="219.13" y1="627.60" x2="219.13" y2="629.20" stroke="#333" stroke-width="0.6"/>
<line x1="220.38" y1="627.60" x2="220.38" y2="629.20" stroke="#333" stroke-width="0.6"/>
<line x1="221.50" y1="627.60" x2="221.50" y2="630.60" stroke="#333" stroke-width="0.6"/>
<line x1="228.88" y1="627.60" x2="228.88" y2="629.20" stroke="#333" stroke-width="0.6"/>
<line x1="233.19" y1="627.60" x2="233.19" y2="629.20" stroke="#333" stroke-width="0.6"/>
<line x1="236.25" y1="627.60" x2="236.25" y2="629.20" stroke="#333" stroke-width="0.6"/>
<line x1="238.62" y1="627.60" x2="238.62" y2="629.20" stroke="#333" stroke-width="0.6"/>
<line x1="240.56" y1="627.60" x2="240.56" y2="629.20" stroke="#333" stroke-width="0.6"/>
<line x1="242.20" y1="627.60" x2="242.20" y2="629.20" stroke="#333" stroke-width="0.6"/>
<line x1="243.63" y1="627.60" x2="243.63" y2="629.20" stroke="#333" stroke-width="0.6"/>
<line x1="244.88" y1="627.60" x2="244.88" y2="629.20" stroke="#333" stroke-width="0.6"/>
<line x1="246.00" y1="627.60" x2="246.00" y2="630.60" stroke="#333" stroke-width="0.6"/>
<text x="177.40" y="515.8" font-size="7.6" text-anchor="start" fill="#111" stroke="#111" stroke-width="0.05" textLength="20.2" lengthAdjust="spacingAndGlyphs">pWPI</text>
<path d="M148.00,600.90 C148.02,604.15 147.55,617.35 148.10,620.40 C148.65,623.45 150.25,619.58 151.30,619.20 C152.35,618.82 153.37,618.47 154.40,618.10 C155.43,617.73 156.58,617.22 157.50,617.00 C158.42,616.78 159.12,616.67 159.90,616.80 C160.68,616.93 161.28,617.32 162.20,617.80 C163.12,618.28 164.35,619.10 165.40,619.70 C166.45,620.30 167.58,620.97 168.50,621.40 C169.42,621.83 170.25,622.20 170.90,622.30 C171.55,622.40 171.88,622.32 172.40,622.00 C172.92,621.68 173.47,621.32 174.00,620.40 C174.53,619.48 175.08,618.32 175.60,616.50 C176.12,614.68 176.58,612.50 177.10,609.50 C177.62,606.50 178.17,602.17 178.70,598.50 C179.23,594.83 179.78,591.42 180.30,587.50 C180.82,583.58 181.28,579.43 181.80,575.00 C182.32,570.57 182.87,565.60 183.40,560.90 C183.93,556.20 184.55,550.58 185.00,546.80 C185.45,543.02 185.77,540.15 186.10,538.20 C186.43,536.25 186.67,534.97 187.00,535.10 C187.33,535.23 187.73,537.05 188.10,539.00 C188.47,540.95 188.82,543.67 189.20,546.80 C189.58,549.93 189.93,553.62 190.40,557.80 C190.87,561.98 191.47,567.20 192.00,571.90 C192.53,576.60 193.08,581.83 193.60,586.00 C194.12,590.17 194.55,594.32 195.10,596.90 C195.65,599.48 196.30,600.25 196.90,601.50 C197.50,602.75 198.02,603.72 198.70,604.40 C199.38,605.08 200.23,605.47 201.00,605.60 C201.77,605.73 202.63,605.33 203.30,605.20 C203.97,605.07 204.43,605.03 205.00,604.80 C205.57,604.57 206.12,603.92 206.70,603.80 C207.28,603.68 207.82,604.28 208.50,604.10 C209.18,603.92 210.03,603.22 210.80,602.70 C211.57,602.18 212.43,601.48 213.10,601.00 C213.77,600.52 214.32,599.90 214.80,599.80 C215.28,599.70 215.52,600.58 216.00,600.40 C216.48,600.22 217.03,599.28 217.70,598.70 C218.37,598.12 219.23,597.48 220.00,596.90 C220.77,596.32 221.68,595.97 222.30,595.20 C222.92,594.43 223.32,593.17 223.70,592.30 C224.08,591.43 224.25,590.62 224.60,590.00 C224.95,589.38 225.42,588.40 225.80,588.60 C226.18,588.80 226.52,590.10 226.90,591.20 C227.28,592.30 227.62,593.67 228.10,595.20 C228.58,596.73 229.23,598.87 229.80,600.40 C230.37,601.93 230.92,603.05 231.50,604.40 C232.08,605.75 232.82,607.05 233.30,608.50 C233.78,609.95 233.92,611.57 234.40,613.10 C234.88,614.63 235.52,616.17 236.20,617.70 C236.88,619.23 237.73,620.95 238.50,622.30 C239.27,623.65 240.03,624.93 240.80,625.80 C241.57,626.67 242.23,627.17 243.10,627.50 C243.97,627.83 245.52,627.75 246.00,627.80" stroke="#151515" stroke-width="1.0" fill="none" stroke-linejoin="round"/>
<path d="M148.4,602.7 H171.7" stroke="#9a9a9a" stroke-width="0.8" fill="none"/>
<line x1="148.40" y1="601.50" x2="148.40" y2="603.90" stroke="#888" stroke-width="0.7"/>
<line x1="171.70" y1="601.50" x2="171.70" y2="603.90" stroke="#888" stroke-width="0.7"/>
<path d="M174.1,552.9 H199.6" stroke="#9a9a9a" stroke-width="0.8" fill="none"/>
<line x1="174.10" y1="551.70" x2="174.10" y2="554.10" stroke="#888" stroke-width="0.7"/>
<line x1="199.60" y1="551.70" x2="199.60" y2="554.10" stroke="#888" stroke-width="0.7"/>
<path d="M198.5,573.5 H217.8" stroke="#9a9a9a" stroke-width="0.8" fill="none"/>
<line x1="198.50" y1="572.30" x2="198.50" y2="574.70" stroke="#888" stroke-width="0.7"/>
<line x1="217.80" y1="572.30" x2="217.80" y2="574.70" stroke="#888" stroke-width="0.7"/>
<path d="M217.8,587.5 H235.6" stroke="#9a9a9a" stroke-width="0.8" fill="none"/>
<line x1="217.80" y1="586.30" x2="217.80" y2="588.70" stroke="#888" stroke-width="0.7"/>
<line x1="235.60" y1="586.30" x2="235.60" y2="588.70" stroke="#888" stroke-width="0.7"/>
<text x="153.50" y="592.40" font-size="5.2" font-family='"Liberation Serif", serif' fill="#111" stroke="#111" stroke-width="0.18">subG1</text>
<text x="153.50" y="598.40" font-size="5.2" font-family='"Liberation Serif", serif' fill="#111" stroke="#111" stroke-width="0.18">8.06%</text>
<text x="194.00" y="542.60" font-size="5.2" font-family='"Liberation Serif", serif' fill="#111" stroke="#111" stroke-width="0.18">G1</text>
<text x="194.00" y="548.50" font-size="5.2" font-family='"Liberation Serif", serif' fill="#111" stroke="#111" stroke-width="0.18">48.5%</text>
<text x="202.60" y="563.70" font-size="5.2" font-family='"Liberation Serif", serif' fill="#111" stroke="#111" stroke-width="0.18">S</text>
<text x="202.60" y="569.70" font-size="5.2" font-family='"Liberation Serif", serif' fill="#111" stroke="#111" stroke-width="0.18">19.3%</text>
<text x="221.20" y="578.10" font-size="5.2" font-family='"Liberation Serif", serif' fill="#111" stroke="#111" stroke-width="0.18">G2-M</text>
<text x="221.20" y="584.00" font-size="5.2" font-family='"Liberation Serif", serif' fill="#111" stroke="#111" stroke-width="0.18">20.6%</text>
<text x="149.80" y="638.2" font-size="5.9" font-family='"Liberation Serif", serif' fill="#111" stroke="#111" stroke-width="0.1">10<tspan dx="0.4" dy="-4.3" font-size="4.4">0</tspan></text>
<text x="168.90" y="638.2" font-size="5.9" font-family='"Liberation Serif", serif' fill="#111" stroke="#111" stroke-width="0.1">10<tspan dx="0.4" dy="-4.3" font-size="4.4">1</tspan></text>
<text x="194.30" y="638.2" font-size="5.9" font-family='"Liberation Serif", serif' fill="#111" stroke="#111" stroke-width="0.1">10<tspan dx="0.4" dy="-4.3" font-size="4.4">2</tspan></text>
<text x="217.90" y="638.2" font-size="5.9" font-family='"Liberation Serif", serif' fill="#111" stroke="#111" stroke-width="0.1">10<tspan dx="0.4" dy="-4.3" font-size="4.4">3</tspan></text>
<text x="240.90" y="638.2" font-size="5.9" font-family='"Liberation Serif", serif' fill="#111" stroke="#111" stroke-width="0.1">10<tspan dx="0.4" dy="-4.3" font-size="4.4">4</tspan></text>
<text x="195.70" y="649.9" font-size="4.9" text-anchor="middle" fill="#222" stroke="#222" stroke-width="0.12" textLength="11" lengthAdjust="spacingAndGlyphs">FL3-H</text>
<rect x="313.70" y="529.60" width="98.00" height="98.00" fill="none" stroke="#555" stroke-width="0.9"/>
<line x1="313.70" y1="529.60" x2="313.70" y2="627.60" stroke="#222" stroke-width="1.1"/>
<line x1="313.70" y1="627.60" x2="411.70" y2="627.60" stroke="#222" stroke-width="1.1"/>
<line x1="310.20" y1="627.40" x2="313.70" y2="627.40" stroke="#333" stroke-width="0.8"/>
<text x="308.60" y="628.50" font-size="5.8" font-family='"Liberation Serif", serif' text-anchor="end" fill="#111" stroke="#111" stroke-width="0.12">0</text>
<line x1="310.20" y1="594.93" x2="313.70" y2="594.93" stroke="#333" stroke-width="0.8"/>
<text x="308.60" y="596.60" font-size="5.8" font-family='"Liberation Serif", serif' text-anchor="end" fill="#111" stroke="#111" stroke-width="0.12">500</text>
<line x1="310.20" y1="562.47" x2="313.70" y2="562.47" stroke="#333" stroke-width="0.8"/>
<text x="308.60" y="564.90" font-size="5.8" font-family='"Liberation Serif", serif' text-anchor="end" fill="#111" stroke="#111" stroke-width="0.12">1000</text>
<line x1="310.20" y1="530.00" x2="313.70" y2="530.00" stroke="#333" stroke-width="0.8"/>
<text x="308.60" y="535.10" font-size="5.8" font-family='"Liberation Serif", serif' text-anchor="end" fill="#111" stroke="#111" stroke-width="0.12">1500</text>
<line x1="312.20" y1="627.40" x2="313.70" y2="627.40" stroke="#333" stroke-width="0.6"/>
<line x1="312.20" y1="620.91" x2="313.70" y2="620.91" stroke="#333" stroke-width="0.6"/>
<line x1="312.20" y1="614.41" x2="313.70" y2="614.41" stroke="#333" stroke-width="0.6"/>
<line x1="312.20" y1="607.92" x2="313.70" y2="607.92" stroke="#333" stroke-width="0.6"/>
<line x1="312.20" y1="601.43" x2="313.70" y2="601.43" stroke="#333" stroke-width="0.6"/>
<line x1="312.20" y1="594.93" x2="313.70" y2="594.93" stroke="#333" stroke-width="0.6"/>
<line x1="312.20" y1="588.44" x2="313.70" y2="588.44" stroke="#333" stroke-width="0.6"/>
<line x1="312.20" y1="581.95" x2="313.70" y2="581.95" stroke="#333" stroke-width="0.6"/>
<line x1="312.20" y1="575.45" x2="313.70" y2="575.45" stroke="#333" stroke-width="0.6"/>
<line x1="312.20" y1="568.96" x2="313.70" y2="568.96" stroke="#333" stroke-width="0.6"/>
<line x1="312.20" y1="562.47" x2="313.70" y2="562.47" stroke="#333" stroke-width="0.6"/>
<line x1="312.20" y1="555.97" x2="313.70" y2="555.97" stroke="#333" stroke-width="0.6"/>
<line x1="312.20" y1="549.48" x2="313.70" y2="549.48" stroke="#333" stroke-width="0.6"/>
<line x1="312.20" y1="542.99" x2="313.70" y2="542.99" stroke="#333" stroke-width="0.6"/>
<line x1="312.20" y1="536.49" x2="313.70" y2="536.49" stroke="#333" stroke-width="0.6"/>
<line x1="312.20" y1="530.00" x2="313.70" y2="530.00" stroke="#333" stroke-width="0.6"/>
<line x1="313.70" y1="627.60" x2="313.70" y2="630.60" stroke="#333" stroke-width="0.6"/>
<line x1="321.08" y1="627.60" x2="321.08" y2="629.20" stroke="#333" stroke-width="0.6"/>
<line x1="325.39" y1="627.60" x2="325.39" y2="629.20" stroke="#333" stroke-width="0.6"/>
<line x1="328.45" y1="627.60" x2="328.45" y2="629.20" stroke="#333" stroke-width="0.6"/>
<line x1="330.82" y1="627.60" x2="330.82" y2="629.20" stroke="#333" stroke-width="0.6"/>
<line x1="332.76" y1="627.60" x2="332.76" y2="629.20" stroke="#333" stroke-width="0.6"/>
<line x1="334.40" y1="627.60" x2="334.40" y2="629.20" stroke="#333" stroke-width="0.6"/>
<line x1="335.83" y1="627.60" x2="335.83" y2="629.20" stroke="#333" stroke-width="0.6"/>
<line x1="337.08" y1="627.60" x2="337.08" y2="629.20" stroke="#333" stroke-width="0.6"/>
<line x1="338.20" y1="627.60" x2="338.20" y2="630.60" stroke="#333" stroke-width="0.6"/>
<line x1="345.58" y1="627.60" x2="345.58" y2="629.20" stroke="#333" stroke-width="0.6"/>
<line x1="349.89" y1="627.60" x2="349.89" y2="629.20" stroke="#333" stroke-width="0.6"/>
<line x1="352.95" y1="627.60" x2="352.95" y2="629.20" stroke="#333" stroke-width="0.6"/>
<line x1="355.32" y1="627.60" x2="355.32" y2="629.20" stroke="#333" stroke-width="0.6"/>
<line x1="357.26" y1="627.60" x2="357.26" y2="629.20" stroke="#333" stroke-width="0.6"/>
<line x1="358.90" y1="627.60" x2="358.90" y2="629.20" stroke="#333" stroke-width="0.6"/>
<line x1="360.33" y1="627.60" x2="360.33" y2="629.20" stroke="#333" stroke-width="0.6"/>
<line x1="361.58" y1="627.60" x2="361.58" y2="629.20" stroke="#333" stroke-width="0.6"/>
<line x1="362.70" y1="627.60" x2="362.70" y2="630.60" stroke="#333" stroke-width="0.6"/>
<line x1="370.08" y1="627.60" x2="370.08" y2="629.20" stroke="#333" stroke-width="0.6"/>
<line x1="374.39" y1="627.60" x2="374.39" y2="629.20" stroke="#333" stroke-width="0.6"/>
<line x1="377.45" y1="627.60" x2="377.45" y2="629.20" stroke="#333" stroke-width="0.6"/>
<line x1="379.82" y1="627.60" x2="379.82" y2="629.20" stroke="#333" stroke-width="0.6"/>
<line x1="381.76" y1="627.60" x2="381.76" y2="629.20" stroke="#333" stroke-width="0.6"/>
<line x1="383.40" y1="627.60" x2="383.40" y2="629.20" stroke="#333" stroke-width="0.6"/>
<line x1="384.83" y1="627.60" x2="384.83" y2="629.20" stroke="#333" stroke-width="0.6"/>
<line x1="386.08" y1="627.60" x2="386.08" y2="629.20" stroke="#333" stroke-width="0.6"/>
<line x1="387.20" y1="627.60" x2="387.20" y2="630.60" stroke="#333" stroke-width="0.6"/>
<line x1="394.58" y1="627.60" x2="394.58" y2="629.20" stroke="#333" stroke-width="0.6"/>
<line x1="398.89" y1="627.60" x2="398.89" y2="629.20" stroke="#333" stroke-width="0.6"/>
<line x1="401.95" y1="627.60" x2="401.95" y2="629.20" stroke="#333" stroke-width="0.6"/>
<line x1="404.32" y1="627.60" x2="404.32" y2="629.20" stroke="#333" stroke-width="0.6"/>
<line x1="406.26" y1="627.60" x2="406.26" y2="629.20" stroke="#333" stroke-width="0.6"/>
<line x1="407.90" y1="627.60" x2="407.90" y2="629.20" stroke="#333" stroke-width="0.6"/>
<line x1="409.33" y1="627.60" x2="409.33" y2="629.20" stroke="#333" stroke-width="0.6"/>
<line x1="410.58" y1="627.60" x2="410.58" y2="629.20" stroke="#333" stroke-width="0.6"/>
<line x1="411.70" y1="627.60" x2="411.70" y2="630.60" stroke="#333" stroke-width="0.6"/>
<text x="325.00" y="515.8" font-size="7.6" text-anchor="start" fill="#111" stroke="#111" stroke-width="0.05" textLength="63.6" lengthAdjust="spacingAndGlyphs">pWPI-HA-Blimp1</text>
<path d="M314.00,612.30 C314.30,611.92 315.12,610.77 315.80,610.00 C316.48,609.23 317.33,608.38 318.10,607.70 C318.87,607.02 319.73,606.48 320.40,605.90 C321.07,605.32 321.62,604.33 322.10,604.20 C322.58,604.07 322.72,604.62 323.30,605.10 C323.88,605.58 324.75,606.28 325.60,607.10 C326.45,607.92 327.45,608.98 328.40,610.00 C329.35,611.02 330.43,612.20 331.30,613.20 C332.17,614.20 332.97,615.48 333.60,616.00 C334.23,616.52 334.58,616.53 335.10,616.30 C335.62,616.07 336.18,616.62 336.70,614.60 C337.22,612.58 337.70,608.23 338.20,604.20 C338.70,600.17 339.22,594.63 339.70,590.40 C340.18,586.17 340.63,582.17 341.10,578.80 C341.57,575.43 342.12,572.02 342.50,570.20 C342.88,568.38 343.05,568.15 343.40,567.90 C343.75,567.65 344.17,567.45 344.60,568.70 C345.03,569.95 345.52,572.75 346.00,575.40 C346.48,578.05 346.97,581.53 347.50,584.60 C348.03,587.67 348.63,591.50 349.20,593.80 C349.77,596.10 350.32,597.33 350.90,598.40 C351.48,599.47 352.12,599.82 352.70,600.20 C353.28,600.58 353.83,600.38 354.40,600.70 C354.97,601.02 355.43,601.67 356.10,602.10 C356.77,602.53 357.68,603.23 358.40,603.30 C359.12,603.37 359.78,602.82 360.40,602.50 C361.02,602.18 361.53,601.87 362.10,601.40 C362.67,600.93 363.25,600.42 363.80,599.70 C364.35,598.98 364.87,597.98 365.40,597.10 C365.93,596.22 366.47,595.30 367.00,594.40 C367.53,593.50 368.07,592.60 368.60,591.70 C369.13,590.80 369.75,589.80 370.20,589.00 C370.65,588.20 370.93,587.70 371.30,586.90 C371.67,586.10 372.10,585.10 372.40,584.20 C372.70,583.30 372.75,581.77 373.10,581.50 C373.45,581.23 374.00,582.25 374.50,582.60 C375.00,582.95 375.57,583.17 376.10,583.60 C376.63,584.03 377.17,584.38 377.70,585.20 C378.23,586.02 378.77,587.33 379.30,588.50 C379.83,589.67 380.35,590.95 380.90,592.20 C381.45,593.45 382.05,594.75 382.60,596.00 C383.15,597.25 383.67,598.37 384.20,599.70 C384.73,601.03 385.27,602.57 385.80,604.00 C386.33,605.43 386.87,607.03 387.40,608.30 C387.93,609.57 388.37,610.52 389.00,611.60 C389.63,612.68 390.48,613.73 391.20,614.80 C391.92,615.87 392.60,617.10 393.30,618.00 C394.00,618.90 394.68,619.98 395.40,620.20 C396.12,620.42 396.88,619.40 397.60,619.30 C398.32,619.20 398.90,619.37 399.70,619.60 C400.50,619.83 401.68,620.17 402.40,620.70 C403.12,621.23 403.45,622.00 404.00,622.80 C404.55,623.60 405.15,624.72 405.70,625.50 C406.25,626.28 406.50,627.13 407.30,627.50 C408.10,627.87 409.72,627.67 410.50,627.70 C411.28,627.73 411.75,627.70 412.00,627.70" stroke="#151515" stroke-width="1.0" fill="none" stroke-linejoin="round"/>
<path d="M314.2,592.6 H335.0" stroke="#9a9a9a" stroke-width="0.8" fill="none"/>
<line x1="314.20" y1="591.40" x2="314.20" y2="593.80" stroke="#888" stroke-width="0.7"/>
<line x1="335.00" y1="591.40" x2="335.00" y2="593.80" stroke="#888" stroke-width="0.7"/>
<path d="M335.4,559.6 H350.9" stroke="#9a9a9a" stroke-width="0.8" fill="none"/>
<line x1="335.40" y1="558.40" x2="335.40" y2="560.80" stroke="#888" stroke-width="0.7"/>
<line x1="350.90" y1="558.40" x2="350.90" y2="560.80" stroke="#888" stroke-width="0.7"/>
<path d="M352.3,572.3 H365.4" stroke="#9a9a9a" stroke-width="0.8" fill="none"/>
<line x1="352.30" y1="571.10" x2="352.30" y2="573.50" stroke="#888" stroke-width="0.7"/>
<line x1="365.40" y1="571.10" x2="365.40" y2="573.50" stroke="#888" stroke-width="0.7"/>
<path d="M365.6,579.9 H386.7" stroke="#9a9a9a" stroke-width="0.8" fill="none"/>
<line x1="365.60" y1="578.70" x2="365.60" y2="581.10" stroke="#888" stroke-width="0.7"/>
<line x1="386.70" y1="578.70" x2="386.70" y2="581.10" stroke="#888" stroke-width="0.7"/>
<text x="317.60" y="581.80" font-size="5.2" font-family='"Liberation Serif", serif' fill="#111" stroke="#111" stroke-width="0.18">subG1</text>
<text x="317.60" y="586.90" font-size="5.2" font-family='"Liberation Serif", serif' fill="#111" stroke="#111" stroke-width="0.18">15.2%</text>
<text x="337.90" y="552.40" font-size="5.2" font-family='"Liberation Serif", serif' fill="#111" stroke="#111" stroke-width="0.18">G1</text>
<text x="337.90" y="557.80" font-size="5.2" font-family='"Liberation Serif", serif' fill="#111" stroke="#111" stroke-width="0.18">25.1%</text>
<text x="357.80" y="562.90" font-size="5.2" font-family='"Liberation Serif", serif' fill="#111" stroke="#111" stroke-width="0.18">S</text>
<text x="357.80" y="568.30" font-size="5.2" font-family='"Liberation Serif", serif' fill="#111" stroke="#111" stroke-width="0.18">11.3%</text>
<text x="380.30" y="571.00" font-size="5.2" font-family='"Liberation Serif", serif' fill="#111" stroke="#111" stroke-width="0.18">G2-M</text>
<text x="380.30" y="576.90" font-size="5.2" font-family='"Liberation Serif", serif' fill="#111" stroke="#111" stroke-width="0.18">30.5%</text>
<text x="315.50" y="638.2" font-size="5.9" font-family='"Liberation Serif", serif' fill="#111" stroke="#111" stroke-width="0.1">10<tspan dx="0.4" dy="-4.3" font-size="4.4">0</tspan></text>
<text x="334.60" y="638.2" font-size="5.9" font-family='"Liberation Serif", serif' fill="#111" stroke="#111" stroke-width="0.1">10<tspan dx="0.4" dy="-4.3" font-size="4.4">1</tspan></text>
<text x="360.00" y="638.2" font-size="5.9" font-family='"Liberation Serif", serif' fill="#111" stroke="#111" stroke-width="0.1">10<tspan dx="0.4" dy="-4.3" font-size="4.4">2</tspan></text>
<text x="383.60" y="638.2" font-size="5.9" font-family='"Liberation Serif", serif' fill="#111" stroke="#111" stroke-width="0.1">10<tspan dx="0.4" dy="-4.3" font-size="4.4">3</tspan></text>
<text x="406.60" y="638.2" font-size="5.9" font-family='"Liberation Serif", serif' fill="#111" stroke="#111" stroke-width="0.1">10<tspan dx="0.4" dy="-4.3" font-size="4.4">4</tspan></text>
<text x="361.40" y="649.9" font-size="4.9" text-anchor="middle" fill="#222" stroke="#222" stroke-width="0.12" textLength="11" lengthAdjust="spacingAndGlyphs">FL3-H</text>
</svg>
</body></html>
